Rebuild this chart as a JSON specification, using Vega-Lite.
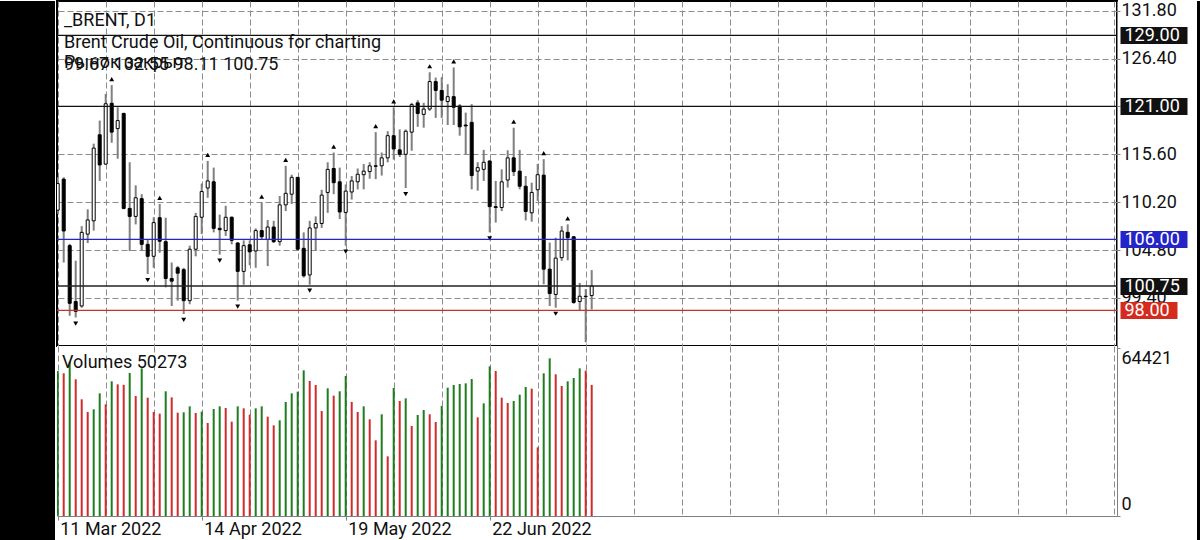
{
  "$schema": "https://vega.github.io/schema/vega-lite/v6.json",
  "background": "white",
  "padding": 0,
  "config": {
    "view": {"stroke": null},
    "font": "Roboto",
    "axis": {"labelFont": "Roboto", "labelFontSize": 18, "labelColor": "#111111", "title": null}
  },
  "datasets": {
    "bars": [
      {"i":0,"d":"2022-03-11","o":109.3,"h":113.0,"l":108.9,"c":112.3,"v":55600,"vd":"up","fr":""},
      {"i":1,"d":"2022-03-14","o":112.8,"h":113.0,"l":103.4,"c":106.95,"v":54720,"vd":"down","fr":""},
      {"i":2,"d":"2022-03-15","o":105.3,"h":105.5,"l":97.4,"c":98.8,"v":59170,"vd":"up","fr":""},
      {"i":3,"d":"2022-03-16","o":99.0,"h":103.6,"l":97.2,"c":97.9,"v":52420,"vd":"down","fr":"down"},
      {"i":4,"d":"2022-03-17","o":98.5,"h":107.5,"l":98.3,"c":106.8,"v":44750,"vd":"down","fr":""},
      {"i":5,"d":"2022-03-18","o":106.6,"h":109.4,"l":105.6,"c":108.2,"v":39880,"vd":"down","fr":""},
      {"i":6,"d":"2022-03-21","o":108.1,"h":116.8,"l":107.0,"c":116.3,"v":40910,"vd":"up","fr":""},
      {"i":7,"d":"2022-03-22","o":117.8,"h":119.4,"l":112.6,"c":114.4,"v":47040,"vd":"up","fr":""},
      {"i":8,"d":"2022-03-23","o":114.5,"h":122.4,"l":114.4,"c":121.3,"v":42820,"vd":"down","fr":""},
      {"i":9,"d":"2022-03-24","o":121.35,"h":123.4,"l":116.9,"c":118.1,"v":51640,"vd":"up","fr":"up"},
      {"i":10,"d":"2022-03-25","o":118.5,"h":120.9,"l":115.1,"c":119.4,"v":50490,"vd":"down","fr":""},
      {"i":11,"d":"2022-03-28","o":120.2,"h":120.3,"l":109.4,"c":109.5,"v":50300,"vd":"down","fr":""},
      {"i":12,"d":"2022-03-29","o":109.5,"h":114.7,"l":104.7,"c":108.6,"v":54830,"vd":"up","fr":""},
      {"i":13,"d":"2022-03-30","o":108.6,"h":112.1,"l":107.7,"c":110.7,"v":46010,"vd":"down","fr":""},
      {"i":14,"d":"2022-03-31","o":110.6,"h":111.1,"l":104.7,"c":105.45,"v":56630,"vd":"up","fr":""},
      {"i":15,"d":"2022-04-01","o":105.45,"h":106.0,"l":102.1,"c":104.1,"v":45370,"vd":"down","fr":"down"},
      {"i":16,"d":"2022-04-04","o":104.1,"h":108.5,"l":102.8,"c":107.9,"v":39880,"vd":"down","fr":""},
      {"i":17,"d":"2022-04-05","o":108.45,"h":110.0,"l":104.5,"c":105.8,"v":39240,"vd":"down","fr":"up"},
      {"i":18,"d":"2022-04-06","o":105.75,"h":108.45,"l":100.6,"c":101.6,"v":47810,"vd":"up","fr":""},
      {"i":19,"d":"2022-04-07","o":101.6,"h":103.4,"l":98.5,"c":101.3,"v":45500,"vd":"down","fr":""},
      {"i":20,"d":"2022-04-08","o":102.8,"h":103.0,"l":99.1,"c":102.2,"v":39620,"vd":"down","fr":""},
      {"i":21,"d":"2022-04-11","o":102.6,"h":102.8,"l":97.6,"c":99.1,"v":39760,"vd":"up","fr":"down"},
      {"i":22,"d":"2022-04-12","o":99.1,"h":105.3,"l":98.7,"c":104.9,"v":42050,"vd":"up","fr":""},
      {"i":23,"d":"2022-04-13","o":104.9,"h":109.0,"l":104.1,"c":108.6,"v":39500,"vd":"down","fr":""},
      {"i":24,"d":"2022-04-14","o":108.5,"h":112.3,"l":106.6,"c":111.4,"v":40010,"vd":"up","fr":""},
      {"i":25,"d":"2022-04-18","o":111.8,"h":114.85,"l":110.7,"c":112.6,"v":35660,"vd":"down","fr":"up"},
      {"i":26,"d":"2022-04-19","o":112.5,"h":114.1,"l":106.8,"c":107.25,"v":41030,"vd":"up","fr":""},
      {"i":27,"d":"2022-04-20","o":107.25,"h":108.8,"l":104.3,"c":107.1,"v":42050,"vd":"up","fr":"down"},
      {"i":28,"d":"2022-04-21","o":107.0,"h":109.8,"l":106.4,"c":108.5,"v":41410,"vd":"down","fr":""},
      {"i":29,"d":"2022-04-22","o":108.5,"h":108.6,"l":105.45,"c":105.9,"v":36170,"vd":"down","fr":""},
      {"i":30,"d":"2022-04-25","o":105.6,"h":105.7,"l":99.1,"c":102.4,"v":42050,"vd":"up","fr":"down"},
      {"i":31,"d":"2022-04-26","o":102.4,"h":105.9,"l":100.9,"c":105.3,"v":41290,"vd":"down","fr":""},
      {"i":32,"d":"2022-04-27","o":105.4,"h":105.9,"l":103.1,"c":104.6,"v":38850,"vd":"down","fr":""},
      {"i":33,"d":"2022-04-28","o":104.7,"h":107.25,"l":102.8,"c":107.0,"v":41290,"vd":"up","fr":""},
      {"i":34,"d":"2022-04-29","o":107.0,"h":110.15,"l":106.0,"c":106.3,"v":42050,"vd":"up","fr":"up"},
      {"i":35,"d":"2022-05-02","o":106.0,"h":108.2,"l":103.0,"c":107.4,"v":38090,"vd":"down","fr":""},
      {"i":36,"d":"2022-05-03","o":107.4,"h":108.1,"l":105.6,"c":105.75,"v":34770,"vd":"down","fr":""},
      {"i":37,"d":"2022-05-04","o":105.75,"h":110.9,"l":105.3,"c":109.9,"v":36690,"vd":"up","fr":""},
      {"i":38,"d":"2022-05-05","o":109.9,"h":114.3,"l":109.2,"c":111.2,"v":43710,"vd":"up","fr":"up"},
      {"i":39,"d":"2022-05-06","o":111.1,"h":113.3,"l":110.0,"c":113.0,"v":47040,"vd":"up","fr":""},
      {"i":40,"d":"2022-05-09","o":113.0,"h":113.05,"l":104.7,"c":104.9,"v":47680,"vd":"up","fr":""},
      {"i":41,"d":"2022-05-10","o":105.0,"h":106.8,"l":101.7,"c":101.9,"v":55860,"vd":"up","fr":""},
      {"i":42,"d":"2022-05-11","o":102.0,"h":108.1,"l":100.9,"c":107.3,"v":51770,"vd":"down","fr":"down"},
      {"i":43,"d":"2022-05-12","o":107.3,"h":108.6,"l":104.7,"c":107.8,"v":50230,"vd":"down","fr":""},
      {"i":44,"d":"2022-05-13","o":107.8,"h":111.6,"l":107.3,"c":111.0,"v":40260,"vd":"down","fr":""},
      {"i":45,"d":"2022-05-16","o":111.3,"h":114.7,"l":109.0,"c":113.9,"v":48960,"vd":"up","fr":""},
      {"i":46,"d":"2022-05-17","o":114.0,"h":115.8,"l":111.1,"c":112.4,"v":46140,"vd":"down","fr":"up"},
      {"i":47,"d":"2022-05-18","o":112.5,"h":114.1,"l":108.3,"c":109.1,"v":47810,"vd":"up","fr":""},
      {"i":48,"d":"2022-05-19","o":109.05,"h":112.2,"l":105.3,"c":111.45,"v":53680,"vd":"up","fr":"down"},
      {"i":49,"d":"2022-05-20","o":111.35,"h":113.15,"l":110.5,"c":112.6,"v":43710,"vd":"down","fr":""},
      {"i":50,"d":"2022-05-23","o":112.5,"h":114.0,"l":111.65,"c":113.35,"v":39880,"vd":"down","fr":""},
      {"i":51,"d":"2022-05-24","o":113.3,"h":114.5,"l":111.65,"c":113.7,"v":42050,"vd":"up","fr":""},
      {"i":52,"d":"2022-05-25","o":113.65,"h":114.7,"l":112.85,"c":114.3,"v":37070,"vd":"down","fr":""},
      {"i":53,"d":"2022-05-26","o":114.3,"h":118.1,"l":112.8,"c":114.25,"v":29010,"vd":"down","fr":"up"},
      {"i":54,"d":"2022-05-27","o":114.3,"h":115.8,"l":113.2,"c":115.2,"v":38990,"vd":"up","fr":""},
      {"i":55,"d":"2022-05-30","o":115.2,"h":118.2,"l":114.7,"c":117.7,"v":22880,"vd":"down","fr":""},
      {"i":56,"d":"2022-05-31","o":117.7,"h":120.9,"l":115.0,"c":116.2,"v":49080,"vd":"up","fr":"up"},
      {"i":57,"d":"2022-06-01","o":116.1,"h":118.4,"l":115.3,"c":115.6,"v":44100,"vd":"down","fr":""},
      {"i":58,"d":"2022-06-02","o":115.6,"h":118.4,"l":111.8,"c":118.2,"v":45120,"vd":"up","fr":"down"},
      {"i":59,"d":"2022-06-03","o":118.1,"h":121.4,"l":116.0,"c":121.2,"v":34510,"vd":"down","fr":""},
      {"i":60,"d":"2022-06-06","o":121.4,"h":121.7,"l":118.7,"c":120.2,"v":38730,"vd":"up","fr":""},
      {"i":61,"d":"2022-06-07","o":120.1,"h":121.4,"l":118.6,"c":120.7,"v":40650,"vd":"up","fr":""},
      {"i":62,"d":"2022-06-08","o":120.7,"h":124.85,"l":120.5,"c":123.8,"v":38990,"vd":"down","fr":"up"},
      {"i":63,"d":"2022-06-09","o":123.8,"h":124.25,"l":119.7,"c":122.8,"v":36050,"vd":"down","fr":""},
      {"i":64,"d":"2022-06-10","o":122.8,"h":124.3,"l":119.7,"c":121.7,"v":42180,"vd":"up","fr":""},
      {"i":65,"d":"2022-06-13","o":121.55,"h":123.5,"l":118.9,"c":122.1,"v":49210,"vd":"up","fr":""},
      {"i":66,"d":"2022-06-14","o":122.1,"h":125.4,"l":118.9,"c":120.9,"v":50230,"vd":"up","fr":"up"},
      {"i":67,"d":"2022-06-15","o":121.05,"h":121.25,"l":117.7,"c":118.7,"v":50620,"vd":"up","fr":""},
      {"i":68,"d":"2022-06-16","o":118.9,"h":120.3,"l":115.6,"c":118.8,"v":50870,"vd":"up","fr":""},
      {"i":69,"d":"2022-06-17","o":119.2,"h":121.25,"l":111.65,"c":113.2,"v":52530,"vd":"up","fr":""},
      {"i":70,"d":"2022-06-20","o":113.7,"h":114.7,"l":111.5,"c":114.1,"v":37830,"vd":"down","fr":""},
      {"i":71,"d":"2022-06-21","o":113.9,"h":116.1,"l":112.6,"c":114.7,"v":43200,"vd":"up","fr":""},
      {"i":72,"d":"2022-06-22","o":114.85,"h":114.9,"l":106.8,"c":109.7,"v":57390,"vd":"up","fr":"down"},
      {"i":73,"d":"2022-06-23","o":109.7,"h":112.6,"l":107.9,"c":109.6,"v":55600,"vd":"down","fr":""},
      {"i":74,"d":"2022-06-24","o":109.6,"h":113.9,"l":109.2,"c":112.5,"v":45370,"vd":"down","fr":""},
      {"i":75,"d":"2022-06-27","o":112.7,"h":116.05,"l":111.85,"c":115.2,"v":43330,"vd":"down","fr":""},
      {"i":76,"d":"2022-06-28","o":115.2,"h":118.6,"l":113.15,"c":113.65,"v":44100,"vd":"up","fr":"up"},
      {"i":77,"d":"2022-06-29","o":113.7,"h":116.1,"l":111.65,"c":112.0,"v":46530,"vd":"up","fr":""},
      {"i":78,"d":"2022-06-30","o":112.0,"h":113.15,"l":108.15,"c":109.15,"v":49470,"vd":"up","fr":""},
      {"i":79,"d":"2022-07-01","o":109.0,"h":112.4,"l":108.0,"c":111.3,"v":48830,"vd":"down","fr":""},
      {"i":80,"d":"2022-07-04","o":111.6,"h":114.5,"l":110.35,"c":113.3,"v":26330,"vd":"down","fr":""},
      {"i":81,"d":"2022-07-05","o":113.25,"h":115.05,"l":100.95,"c":102.65,"v":54710,"vd":"up","fr":"up"},
      {"i":82,"d":"2022-07-06","o":102.65,"h":105.65,"l":98.5,"c":99.9,"v":60460,"vd":"up","fr":""},
      {"i":83,"d":"2022-07-07","o":99.8,"h":106.2,"l":98.3,"c":103.9,"v":54330,"vd":"down","fr":"down"},
      {"i":84,"d":"2022-07-08","o":103.95,"h":107.5,"l":103.6,"c":106.95,"v":49850,"vd":"down","fr":""},
      {"i":85,"d":"2022-07-11","o":106.8,"h":107.7,"l":103.65,"c":106.2,"v":51640,"vd":"up","fr":"up"},
      {"i":86,"d":"2022-07-12","o":106.3,"h":106.4,"l":98.75,"c":98.9,"v":52920,"vd":"up","fr":""},
      {"i":87,"d":"2022-07-13","o":99.0,"h":101.1,"l":98.0,"c":99.6,"v":56630,"vd":"up","fr":""},
      {"i":88,"d":"2022-07-14","o":99.6,"h":100.4,"l":94.4,"c":99.55,"v":55730,"vd":"down","fr":""},
      {"i":89,"d":"2022-07-15","o":99.67,"h":102.55,"l":98.11,"c":100.75,"v":50273,"vd":"down","fr":""}
    ],
    "levels": [
      {"level":129,"line":"r129"},
      {"level":121,"line":"r121"},
      {"level":106,"line":"s106"},
      {"level":100.75,"line":"bid"},
      {"level":98,"line":"s98"}
    ]
  },
  "hconcat": [
    {
      "width": 55, "height": 540,
      "data": {"values": [{"k": 1}]},
      "mark": {"type": "point", "opacity": 0},
      "view": {"fill": "black", "stroke": null}
    },
    {
      "spacing": 0,
      "bounds": "flush",
      "resolve": {"scale": {"color": "independent"}},
      "title": {
        "text": "Рынок закрыт",
        "anchor": "start", "frame": "group", "orient": "top", "baseline": "top",
        "offset": -72, "dx": 7,
        "font": "Roboto", "fontSize": 18, "fontWeight": "normal", "color": "#111111"
      },
      "vconcat": [
        {
          "width": 1060, "height": 345,
          "view": {"fill": "white", "stroke": "black", "strokeWidth": 2},
          "title": {
            "text": "_BRENT, D1",
            "subtitle": ["Brent Crude Oil, Continuous for charting", "99.67 102.55 98.11 100.75"],
            "anchor": "start", "frame": "group", "orient": "top", "baseline": "top",
            "offset": -73, "dx": 7,
            "font": "Roboto", "fontSize": 18, "fontWeight": "normal", "color": "#111111",
            "subtitleFont": "Roboto", "subtitleFontSize": 18, "subtitleColor": "#111111",
            "subtitlePadding": 4, "subtitleLineHeight": 22
          },
          "layer": [
            {
              "data": {"name": "bars"},
              "encoding": {
                "x": {
                  "field": "i", "type": "quantitative",
                  "scale": {"domain": [-0.117, 176.55], "nice": false, "zero": false, "padding": 0},
                  "axis": {
                    "orient": "bottom",
                    "values": [0,8,16,24,32,40,48,56,64,72,80,88,96,104,112,120,128,136,144,152,160,168,176],
                    "grid": true, "gridDash": [6,3], "gridColor": "#8c8c8c", "gridWidth": 1,
                    "labels": false, "ticks": false, "domain": false,
                    "minExtent": 0, "maxExtent": 0
                  }
                }
              },
              "layer": [
                {
                  "mark": {"type": "rule", "color": "#7f7f7f", "strokeWidth": 2, "clip": true},
                  "encoding": {
                    "y": {
                      "field": "l", "type": "quantitative",
                      "scale": {"domain": [93.988, 132.883], "nice": false, "zero": false, "padding": 0},
                      "axis": {
                        "orient": "right", "offset": 0, "zindex": 0,
                        "values": [99.4, 104.8, 110.2, 115.6, 121, 126.4, 131.8],
                        "format": ".2f",
                        "grid": true, "gridDash": [6,3], "gridColor": "#8c8c8c",
                        "domain": true, "domainColor": "#808080",
                        "ticks": true, "tickSize": 3, "tickColor": "#808080",
                        "labelPadding": 1, "labelFlush": false, "labelOverlap": false, "labelBound": false,
                        "minExtent": 73, "maxExtent": 73
                      }
                    },
                    "y2": {"field": "h"}
                  }
                },
                {
                  "mark": {"type": "bar", "width": 3, "stroke": "black", "strokeWidth": 1, "clip": true, "orient": "vertical"},
                  "encoding": {
                    "y": {"field": "o", "type": "quantitative"},
                    "y2": {"field": "c"},
                    "fill": {"condition": {"test": "datum.c > datum.o", "value": "white"}, "value": "black"}
                  }
                },
                {
                  "transform": [{"filter": "datum.fr == 'up'"}],
                  "mark": {"type": "point", "shape": "triangle-up", "filled": true, "color": "black", "opacity": 1, "size": 24, "yOffset": -6, "clip": true},
                  "encoding": {"y": {"field": "h", "type": "quantitative"}}
                },
                {
                  "transform": [{"filter": "datum.fr == 'down'"}],
                  "mark": {"type": "point", "shape": "triangle-down", "filled": true, "color": "black", "opacity": 1, "size": 24, "yOffset": 6, "clip": true},
                  "encoding": {"y": {"field": "l", "type": "quantitative"}}
                }
              ]
            },
            {
              "data": {"name": "levels"},
              "mark": {"type": "rule", "strokeWidth": 1.3},
              "encoding": {
                "y": {
                  "field": "level", "type": "quantitative",
                  "axis": {
                    "orient": "right", "offset": 3, "zindex": 2,
                    "values": [129, 121, 106, 100.75, 98],
                    "format": ".2f",
                    "grid": false, "domain": false,
                    "ticks": true,
                    "tickSize": {"condition": {"test": "datum.value == 98", "value": 57}, "value": 67},
                    "tickWidth": 17,
                    "tickColor": {"condition": [{"test": "datum.value == 106", "value": "#2424c8"}, {"test": "datum.value == 98", "value": "#d42b1e"}], "value": "#111111"},
                    "labelColor": "white",
                    "labelPadding": {"condition": {"test": "datum.value == 98", "value": -53}, "value": -63},
                    "labelFlush": false, "labelOverlap": false, "labelBound": false,
                    "minExtent": 70, "maxExtent": 70
                  }
                },
                "color": {
                  "field": "line", "type": "nominal", "legend": null,
                  "scale": {"domain": ["r129", "r121", "s106", "bid", "s98"], "range": ["#111111", "#111111", "#2424c8", "#222222", "#c8302a"]}
                }
              }
            }
          ],
          "resolve": {"axis": {"y": "independent"}}
        },
        {
          "width": 1060, "height": 170,
          "view": {"fill": "white", "stroke": null},
          "title": {
            "text": "Volumes 50273",
            "anchor": "start", "frame": "group", "orient": "top", "baseline": "top",
            "offset": -26, "dx": 5,
            "font": "Roboto", "fontSize": 18, "fontWeight": "normal", "color": "#111111"
          },
          "data": {"name": "bars"},
          "mark": {"type": "bar", "width": 2, "orient": "vertical", "clip": true},
          "encoding": {
            "x": {
              "field": "i", "type": "quantitative",
              "scale": {"domain": [-0.117, 176.55], "nice": false, "zero": false, "padding": 0},
              "axis": {
                "orient": "bottom",
                "values": [0,8,16,24,32,40,48,56,64,72,80,88,96,104,112,120,128,136,144,152,160,168,176],
                "grid": true, "gridDash": [6,3], "gridColor": "#8c8c8c",
                "domain": true, "domainColor": "#808080",
                "ticks": true, "tickSize": 4,
                "tickColor": {"condition": {"test": "datum.value % 24 == 0 && datum.value <= 72", "value": "#808080"}, "value": "rgba(0,0,0,0)"},
                "labelExpr": "datum.value == 0 ? '11 Mar 2022' : datum.value == 24 ? '14 Apr 2022' : datum.value == 48 ? '19 May 2022' : datum.value == 72 ? '22 Jun 2022' : ''",
                "labelAlign": "left", "labelBaseline": "top", "labelOffset": 2, "labelPadding": 0,
                "labelFlush": false, "labelOverlap": false, "labelBound": false,
                "minExtent": 25, "maxExtent": 25
              }
            },
            "y": {
              "field": "v", "type": "quantitative",
              "scale": {"domain": [0, 65188], "nice": false, "zero": true, "padding": 0},
              "axis": {
                "orient": "right", "values": [0, 64421], "format": "d",
                "grid": false, "domain": true, "domainColor": "#808080",
                "ticks": true, "tickSize": 3, "tickColor": "#808080",
                "labelPadding": 1, "labelFlush": false, "labelBaseline": "middle",
                "labelOffset": {"condition": {"test": "datum.value == 0", "value": -12}, "value": 10},
                "labelOverlap": false, "labelBound": false,
                "minExtent": 73, "maxExtent": 73
              }
            },
            "color": {
              "field": "vd", "type": "nominal", "legend": null,
              "scale": {"domain": ["up", "down"], "range": ["#1d7d1d", "#cf2b2b"]}
            }
          }
        }
      ]
    },
    {
      "width": 12, "height": 540,
      "data": {"values": [{"k": 1}]},
      "mark": {"type": "point", "opacity": 0},
      "view": {"fill": "black", "stroke": null}
    }
  ],
  "spacing": 0
}
